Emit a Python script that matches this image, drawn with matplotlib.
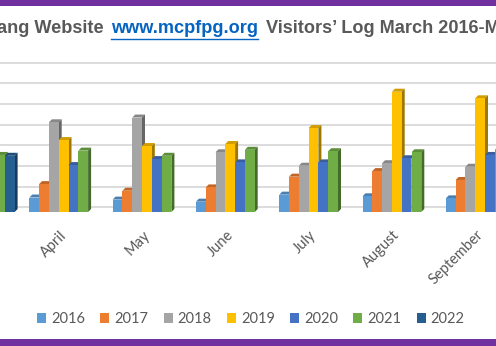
import numpy as np
import matplotlib
matplotlib.use('Agg')
import matplotlib.pyplot as plt
from matplotlib.patches import Polygon, Patch, Rectangle
from matplotlib.lines import Line2D
from matplotlib.colors import to_rgb

# ---------------- data (visitors; grid step = 1000) ----
months = ['March', 'April', 'May', 'June', 'July', 'August', 'September']
years = ['2016', '2017', '2018', '2019', '2020', '2021', '2022']
nan = np.nan
v2016 = [nan, 700, 600, 500, 840, 760, 660]
v2017 = [nan, 1350, 1030, 1190, 1710, 1980, 1550]
v2018 = [nan, 4340, 4570, 2890, 2240, 2360, 2190]
v2019 = [nan, 3480, 3190, 3290, 4060, 5820, 5500]
v2020 = [nan, 2270, 2560, 2400, 2400, 2600, 2760]
v2021 = [2760, 2970, 2720, 3010, 2940, 2890, 3010]
v2022 = [2720, nan, nan, nan, nan, nan, nan]
series = [v2016, v2017, v2018, v2019, v2020, v2021, v2022]
colors = ['#5B9BD5', '#ED7D31', '#A5A5A5', '#FFC000', '#4472C4', '#70AD47', '#255E91']
grid_values = [227 + 1000 * k for k in range(8)]

title_left = 'ang Website'
title_url = 'www.mcpfpg.org'
title_right = 'Visitors\u2019 Log March 2016-M'

# ---------------- layout ----------------
W, H, DPI = 496, 346, 100
fig = plt.figure(figsize=(W / DPI, H / DPI), dpi=DPI)
fig.patch.set_facecolor('white')

base_px, top_px = 212.0, 50.0        # y (from top) of bar base / axes top
px_per_cat = 83.3
cat1_px = 63.6                        # x of April's centre
px_per_val = 20.67 / 1000.0

ax = fig.add_axes([0, (H - base_px) / H, 1, (base_px - top_px) / H])
xl = 1 - cat1_px / px_per_cat
ax.set_xlim(xl, xl + W / px_per_cat)
ax.set_ylim(0, (base_px - top_px) / px_per_val)
ax.set_axis_off()

for g in grid_values:
    ax.axhline(g, color='#d9d9d9', lw=1.3, zorder=0)

nser = len(series)
bw = 9.8 / px_per_cat
depth = 3.0
dx = depth / px_per_cat
dy = depth / px_per_val
x = np.arange(len(months))

def shade(c, f):
    r, g, b = to_rgb(c)
    return (r * f, g * f, b * f)

for j, (vals, c) in enumerate(zip(series, colors)):
    off = (j - (nser - 1) / 2) * bw
    zf = 2 + j * 0.1
    ax.bar(x + off, vals, width=bw, color=c, zorder=zf + 0.05, linewidth=0)
    for i, v in enumerate(vals):
        if np.isnan(v):
            continue
        x0 = x[i] + off - bw / 2
        x1 = x0 + bw
        top = Polygon([(x0, v), (x1, v), (x1 + dx, v + dy), (x0 + dx, v + dy)],
                      closed=True, facecolor=shade(c, 0.82), edgecolor='none',
                      zorder=zf)
        side = Polygon([(x1, 0), (x1, v), (x1 + dx, v + dy), (x1 + dx, dy)],
                       closed=True, facecolor=shade(c, 0.62), edgecolor='none',
                       zorder=zf)
        ax.add_patch(top)
        ax.add_patch(side)

lab_font = {'family': 'Lato', 'size': 10.5}
label_y = (base_px - 233.0) * px_per_val ** -1 * 1.0
for i, m in enumerate(months):
    ax.text(x[i] + 0.01, -(233.0 - base_px) / px_per_val, m, rotation=45,
            ha='right', va='center', rotation_mode='anchor', color='#595959',
            clip_on=False, **lab_font)

# ---------------- legend ----------------
handles = [Patch(facecolor=c, edgecolor='none') for c in colors]
fig.legend(handles, years, ncol=7, loc='center',
           bbox_to_anchor=(250.8 / W, 1 - 319.3 / H), frameon=False,
           prop=lab_font, labelcolor='#595959', handlelength=0.62,
           handleheight=0.62, handletextpad=0.34, columnspacing=1.05,
           borderaxespad=0, borderpad=0)

# ---------------- title ----------------
tfont = {'family': 'Liberation Sans', 'size': 13.1, 'weight': 'bold'}
base_y = 1 - 33.3 / H
renderer = fig.canvas.get_renderer()
t_url = fig.text(111 / W, base_y, title_url, color='#0563C1', ha='left',
                 va='baseline', **tfont)
fig.text(104 / W, base_y, title_left, color='#595959', ha='right',
         va='baseline', **tfont)
fig.text(265.5 / W, base_y, title_right, color='#595959', ha='left',
         va='baseline', **tfont)
bb = t_url.get_window_extent(renderer)
fig.add_artist(Line2D([bb.x0 / W, bb.x1 / W], [1 - 38.8 / H] * 2,
                      color='#0563C1', lw=1.0, transform=fig.transFigure))

# ---------------- purple frame bands ----------------
fig.add_artist(Rectangle((0, 1 - 6 / H), 1, 6 / H, transform=fig.transFigure,
                         facecolor='#7030A0', edgecolor='none'))
fig.add_artist(Rectangle((0, 0), 1, 7 / H, transform=fig.transFigure,
                         facecolor='#7030A0', edgecolor='none'))

fig.savefig('out.png', dpi=DPI)
